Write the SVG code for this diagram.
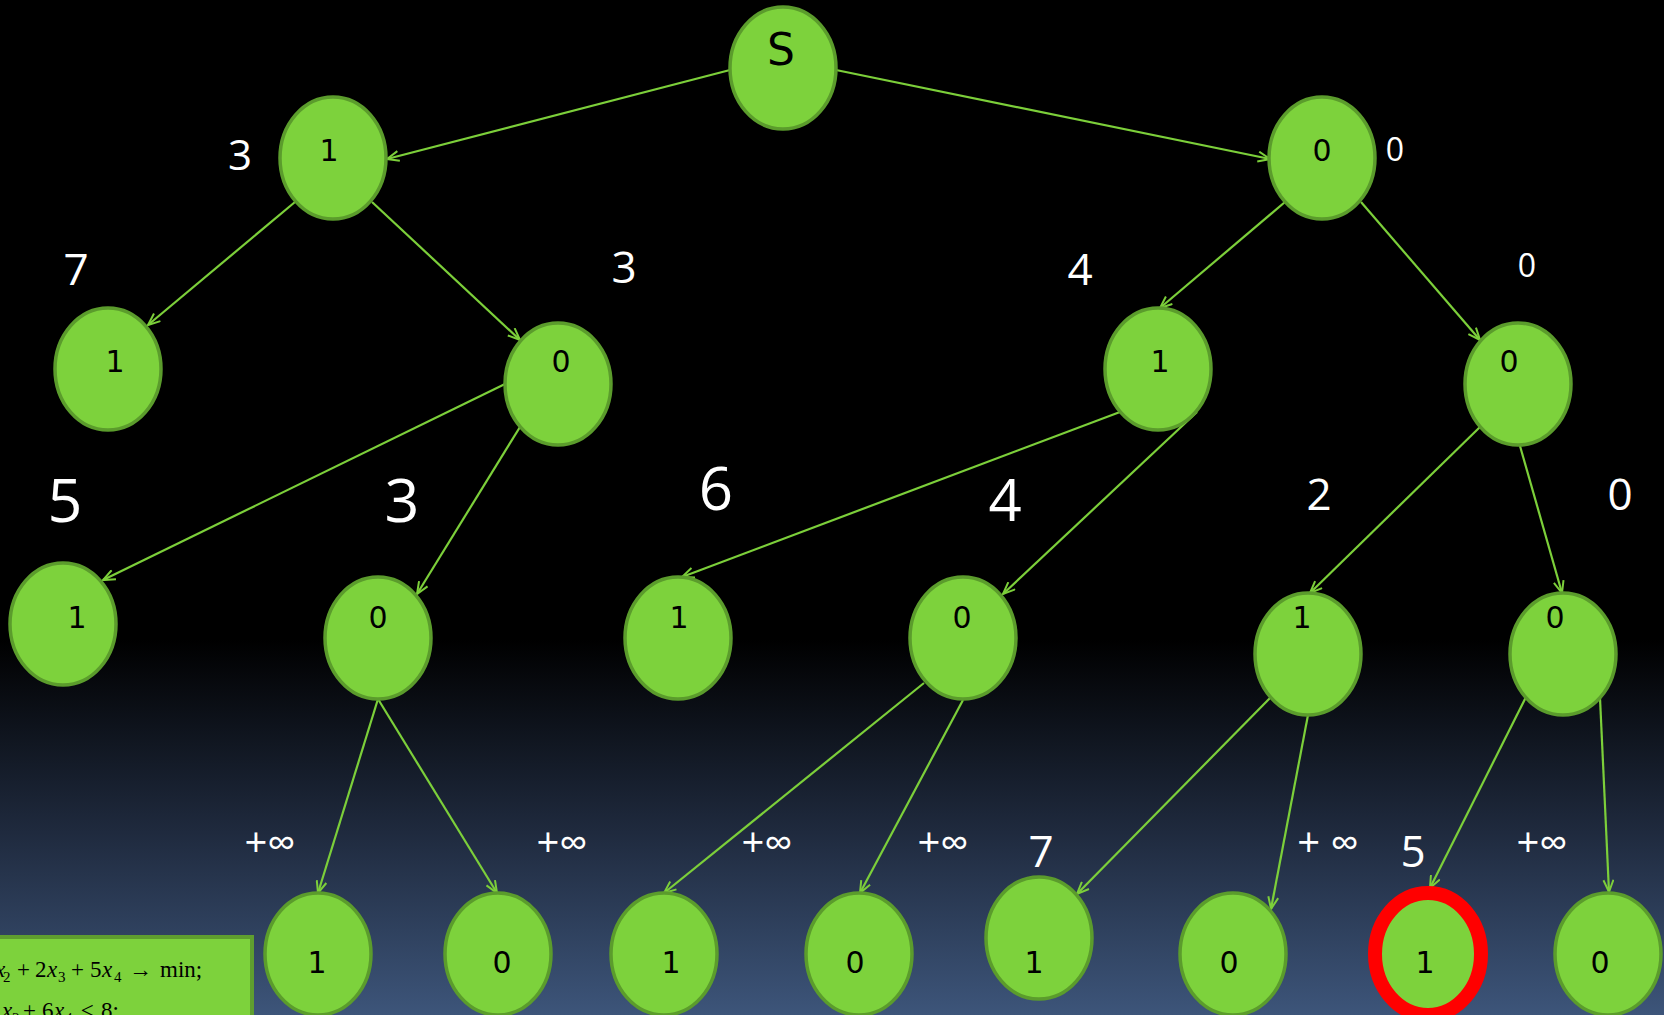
<svg xmlns="http://www.w3.org/2000/svg" width="1664" height="1015" viewBox="0 0 1664 1015">
<defs>
<linearGradient id="bg" x1="0" y1="0" x2="0" y2="1015" gradientUnits="userSpaceOnUse">
<stop offset="0" stop-color="#000000"/>
<stop offset="0.63" stop-color="#000000"/>
<stop offset="0.82" stop-color="#1f2a3e"/>
<stop offset="1" stop-color="#3d557a"/>
</linearGradient>
<marker id="arr" markerWidth="16" markerHeight="12" refX="13" refY="6" orient="auto" markerUnits="userSpaceOnUse">
<path d="M1,1 L13,6 L1,11" fill="none" stroke="#7ccf3a" stroke-width="2"/>
</marker>
<style>
.nd{fill:#7dd23c;stroke:#5b9c2c;stroke-width:3.5}
.red{fill:#7dd23c;stroke:#ff0000;stroke-width:14}
.dg{font-family:"DejaVu Sans",sans-serif;font-size:30px;fill:#000;text-anchor:middle}
.lb{font-family:"Open Sans","DejaVu Sans",sans-serif;fill:#fff;text-anchor:middle}
.e{stroke:#7ccf3a;stroke-width:2.2;fill:none;marker-end:url(#arr)}
.mt{font-family:"Liberation Serif",serif;font-size:23px;fill:#000}
.it{font-style:italic}
.sb{font-size:15px}
</style>
</defs>
<rect x="0" y="0" width="1664" height="1015" fill="url(#bg)"/>

<g id="connectors">
<line class="e" x1="730" y1="70" x2="387" y2="159"/>
<line class="e" x1="836" y1="70" x2="1270" y2="159"/>
<line class="e" x1="295" y1="202" x2="148" y2="325"/>
<line class="e" x1="372" y1="202" x2="520" y2="340"/>
<line class="e" x1="1285" y1="202" x2="1160" y2="308"/>
<line class="e" x1="1361" y1="202" x2="1480" y2="340"/>
<line class="e" x1="505" y1="384" x2="103" y2="580"/>
<line class="e" x1="520" y1="427" x2="417" y2="594"/>
<line class="e" x1="1120" y1="412" x2="682" y2="577"/>
<line class="e" x1="1197" y1="412" x2="1003" y2="594"/>
<line class="e" x1="1480" y1="427" x2="1310" y2="593"/>
<line class="e" x1="1520" y1="446" x2="1562" y2="593"/>
<line class="e" x1="378" y1="699" x2="318" y2="893"/>
<line class="e" x1="378" y1="699" x2="497" y2="893"/>
<line class="e" x1="924" y1="683" x2="664" y2="893"/>
<line class="e" x1="963" y1="700" x2="860" y2="893"/>
<line class="e" x1="1271" y1="697" x2="1077" y2="894"/>
<line class="e" x1="1308" y1="715" x2="1271" y2="909"/>
<line class="e" x1="1526" y1="697" x2="1430" y2="888"/>
<line class="e" x1="1600" y1="698" x2="1609" y2="892"/>
</g>

<g id="nodeS"><ellipse class="nd" cx="783" cy="68" rx="53" ry="61"/><text class="dg" x="781" y="65" style="font-size:44px">S</text></g>
<g id="n1"><ellipse class="nd" cx="333" cy="158" rx="53" ry="61"/><text class="dg" x="329" y="161">1</text></g>
<g id="n0"><ellipse class="nd" cx="1322" cy="158" rx="53" ry="61"/><text class="dg" x="1322" y="161">0</text></g>
<g id="n11"><ellipse class="nd" cx="108" cy="369" rx="53" ry="61"/><text class="dg" x="115" y="372">1</text></g>
<g id="n10"><ellipse class="nd" cx="558" cy="384" rx="53" ry="61"/><text class="dg" x="561" y="372">0</text></g>
<g id="n01"><ellipse class="nd" cx="1158" cy="369" rx="53" ry="61"/><text class="dg" x="1160" y="372">1</text></g>
<g id="n00"><ellipse class="nd" cx="1518" cy="384" rx="53" ry="61"/><text class="dg" x="1509" y="372">0</text></g>
<g id="n101"><ellipse class="nd" cx="63" cy="624" rx="53" ry="61"/><text class="dg" x="77" y="628">1</text></g>
<g id="n100"><ellipse class="nd" cx="378" cy="638" rx="53" ry="61"/><text class="dg" x="378" y="628">0</text></g>
<g id="n011"><ellipse class="nd" cx="678" cy="638" rx="53" ry="61"/><text class="dg" x="679" y="628">1</text></g>
<g id="n010"><ellipse class="nd" cx="963" cy="638" rx="53" ry="61"/><text class="dg" x="962" y="628">0</text></g>
<g id="n001"><ellipse class="nd" cx="1308" cy="654" rx="53" ry="61"/><text class="dg" x="1302" y="628">1</text></g>
<g id="n000"><ellipse class="nd" cx="1563" cy="654" rx="53" ry="61"/><text class="dg" x="1555" y="628">0</text></g>
<g id="n1001"><ellipse class="nd" cx="318" cy="954" rx="53" ry="61"/><text class="dg" x="317" y="973">1</text></g>
<g id="n1000"><ellipse class="nd" cx="498" cy="954" rx="53" ry="61"/><text class="dg" x="502" y="973">0</text></g>
<g id="n0101"><ellipse class="nd" cx="664" cy="954" rx="53" ry="61"/><text class="dg" x="671" y="973">1</text></g>
<g id="n0100"><ellipse class="nd" cx="859" cy="954" rx="53" ry="61"/><text class="dg" x="855" y="973">0</text></g>
<g id="n0011"><ellipse class="nd" cx="1039" cy="938" rx="53" ry="61"/><text class="dg" x="1034" y="973">1</text></g>
<g id="n0010"><ellipse class="nd" cx="1233" cy="954" rx="53" ry="61"/><text class="dg" x="1229" y="973">0</text></g>
<g id="n0001"><ellipse class="red" cx="1428" cy="954" rx="53" ry="61"/><text class="dg" x="1425" y="973">1</text></g>
<g id="n0000"><ellipse class="nd" cx="1608" cy="954" rx="53" ry="61"/><text class="dg" x="1600" y="973">0</text></g>

<g id="labels">
<text class="lb" x="240" y="170" font-size="42">3</text>
<text class="lb" x="1395" y="161" font-size="32">0</text>
<text class="lb" x="76" y="285" font-size="44">7</text>
<text class="lb" x="624" y="283" font-size="44">3</text>
<text class="lb" x="1080" y="285" font-size="44">4</text>
<text class="lb" x="1527" y="277" font-size="32">0</text>
<text class="lb" x="65" y="522" font-size="61">5</text>
<text class="lb" x="402" y="522" font-size="61">3</text>
<text class="lb" x="716" y="510" font-size="60">6</text>
<text class="lb" x="1005" y="521" font-size="58">4</text>
<text class="lb" x="1319" y="510" font-size="44">2</text>
<text class="lb" x="1620" y="510" font-size="44">0</text>
<text class="lb" x="270" y="857" font-size="40">+∞</text>
<text class="lb" x="562" y="857" font-size="40">+∞</text>
<text class="lb" x="767" y="857" font-size="40">+∞</text>
<text class="lb" x="943" y="857" font-size="40">+∞</text>
<text class="lb" x="1041" y="867" font-size="44">7</text>
<text class="lb" x="1328" y="857" font-size="40">+ ∞</text>
<text class="lb" x="1413" y="867" font-size="44">5</text>
<text class="lb" x="1542" y="857" font-size="40">+∞</text>
</g>

<g id="formula">
<rect x="-10" y="937" width="262" height="100" fill="#7dd23c" stroke="#5f9e2f" stroke-width="4"/>
<text class="mt" y="977"><tspan class="it" x="-5">x</tspan><tspan class="sb" x="3" y="982">2</tspan><tspan x="17" y="977">+</tspan><tspan x="35">2</tspan><tspan class="it" x="47">x</tspan><tspan class="sb" x="58" y="982">3</tspan><tspan x="71" y="977">+</tspan><tspan x="90">5</tspan><tspan class="it" x="102">x</tspan><tspan class="sb" x="114" y="982">4</tspan><tspan x="129" y="977">→</tspan><tspan x="160">min;</tspan></text>
<text class="mt" y="1018"><tspan class="it" x="2">x</tspan><tspan class="sb" x="12" y="1023">2</tspan><tspan x="23" y="1018">+</tspan><tspan x="42">6</tspan><tspan class="it" x="54">x</tspan><tspan class="sb" x="65" y="1023">4</tspan><tspan x="81" y="1018">≤</tspan><tspan x="101">8;</tspan></text>
</g>
</svg>
